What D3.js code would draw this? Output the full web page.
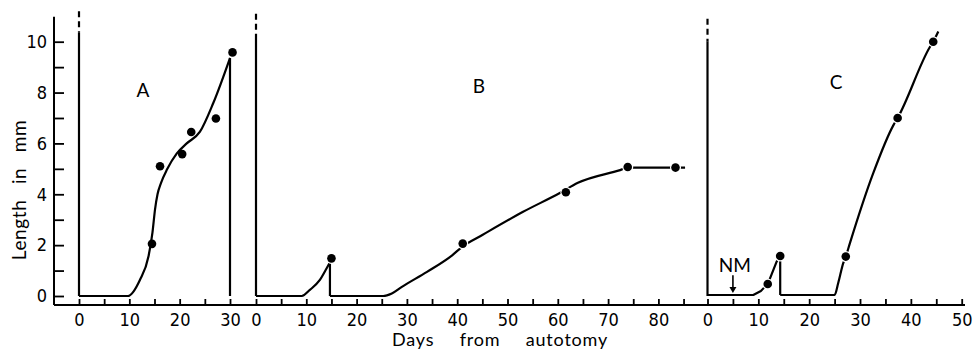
<!DOCTYPE html>
<html>
<head>
<meta charset="utf-8">
<script src="https://cdn.jsdelivr.net/npm/d3@7"></script>
<style>
  html, body { margin: 0; padding: 0; background: #fff; }
  svg { display: block; }
  .tick text { font-family: "DejaVu Sans Condensed", "Liberation Sans Narrow", "Liberation Sans", sans-serif; font-size: 18px; fill: #000; }
  .lbl { font-family: Lato, "Open Sans", sans-serif; fill: #000; }
</style>
</head>
<body>
<div id="chart"></div>
<script>
// ---- data (days, length in mm) ----
const yTickValues = [0, 1, 2, 3, 4, 5, 6, 7, 8, 9, 10];
const yTickLabels = ["0", "", "2", "", "4", "", "6", "", "8", "", "10"];

const aTicks = [0, 5, 10, 15, 20, 25, 30];
const bTicks = [0, 5, 10, 15, 20, 25, 30, 35, 40, 45, 50, 55, 60, 65, 70, 75, 80, 85];
const cTicks = [0, 5, 10, 15, 20, 25, 30, 35, 40, 45, 50];

// panel A
const aCurve = [[0, 0], [9.7, 0], [12.1, 0.63], [13.8, 1.55], [14.6, 2.5], [15.1, 3.4], [15.6, 4.0],
  [16.3, 4.45], [17.5, 4.98], [19.4, 5.6], [21.4, 6.0], [24, 6.45], [26.7, 7.6], [30, 9.36]];
const aDrop = [[30, 9.36], [30, 0]];
const aPoints = [[14.5, 2.05], [16.1, 5.1], [20.5, 5.58], [22.3, 6.45], [27.2, 6.98], [30.5, 9.58]];

// panel B
const bCurve1 = [[0, 0], [9.1, 0], [10.7, 0.24], [12.7, 0.63], [14.05, 1.09], [14.6, 1.29]];
const bDrop = [[14.7, 1.29], [14.7, 0]];
const bCurve2 = [[14.7, 0], [25.3, 0], [27, 0.1], [29, 0.36], [34, 0.95], [39, 1.6], [41.1, 1.95],
  [45, 2.4], [53, 3.3], [60.4, 4.05], [64, 4.45], [72.4, 4.95], [74, 5.05], [83.5, 5.05], [85.3, 5.05]];
const bPoints = [[15, 1.48], [41.1, 2.06], [61.6, 4.08], [73.9, 5.07], [83.4, 5.05]];

// panel C
const cCurve1 = [[0, 0.04], [9, 0.04], [10.5, 0.2], [11.85, 0.47], [13.6, 1.35], [14.3, 1.57]];
const cDrop = [[14.3, 1.57], [14.3, 0.04]];
const cCurve2 = [[14.3, 0.04], [25, 0.04], [25.7, 0.5], [26.7, 1.29], [27.2, 1.55], [28, 2.07],
  [32.6, 4.83], [36.6, 6.73], [37.4, 7.0], [43.8, 9.81], [44.4, 10.0], [45.4, 10.4]];
const cPoints = [[11.85, 0.47], [14.3, 1.57], [27.2, 1.55], [37.4, 7.0], [44.4, 10.0]];

// vertical lines at day 0: [solid top, dashed top]
const zeroLines = { A: [10.35, 11.2], B: [10.15, 11.1], C: [10.0, 10.9] };

const panelLabels = [["A", 12.7, 8.1], ["B", 44.3, 8.23], ["C", 25.3, 8.39]];
const nmNote = { text: "NM", day: 5, textY: 0.95, arrowTop: 0.82, arrowTip: 0.12 };

// ---- layout ----
const W = 975, H = 351;
const svg = d3.select("#chart").append("svg").attr("width", W).attr("height", H);

const y = d3.scaleLinear().domain([0, 10]).range([296, 41.7]);
const xA = d3.scaleLinear().domain([0, 30]).range([79, 230]);
const xB = d3.scaleLinear().domain([0, 80]).range([256, 658.4]);
const xC = d3.scaleLinear().domain([0, 50]).range([707.5, 961.7]);

const axisY = 305;
const spineX = 54;

// x axis baseline
svg.append("line")
  .attr("x1", spineX).attr("x2", 965)
  .attr("y1", axisY).attr("y2", axisY)
  .attr("stroke", "#000").attr("stroke-width", 2);

// y spine
svg.append("line")
  .attr("x1", spineX).attr("x2", spineX)
  .attr("y1", axisY).attr("y2", y(10.98))
  .attr("stroke", "#000").attr("stroke-width", 2);

// y axis
const gy = svg.append("g")
  .attr("transform", `translate(${spineX},0)`)
  .call(d3.axisLeft(y).tickValues(yTickValues)
    .tickFormat((d, i) => yTickLabels[i])
    .tickSizeInner(-10).tickSizeOuter(0).tickPadding(7));
gy.select(".domain").remove();
gy.selectAll(".tick line").attr("stroke-width", 1.8);

// x axes
function xAxis(scale, ticks) {
  const g = svg.append("g")
    .attr("transform", `translate(0,${axisY})`)
    .call(d3.axisBottom(scale).tickValues(ticks)
      .tickFormat(d => d % 10 === 0 ? d : "")
      .tickSizeInner(-6).tickSizeOuter(0).tickPadding(8));
  g.select(".domain").remove();
  g.selectAll(".tick line").attr("stroke-width", 1.8);
}
xAxis(xA, aTicks);
xAxis(xB, bTicks);
xAxis(xC, cTicks);

// axis titles
svg.append("text").attr("class", "lbl")
  .attr("transform", `translate(26,190) rotate(-90)`)
  .attr("text-anchor", "middle")
  .attr("font-size", 19).attr("letter-spacing", 0.6).attr("word-spacing", 10)
  .text("Length in mm");

svg.append("text").attr("class", "lbl")
  .attr("x", 500).attr("y", 346)
  .attr("text-anchor", "middle")
  .attr("font-size", 18).attr("letter-spacing", 0.8).attr("word-spacing", 20)
  .text("Days from autotomy");

// curves
const smooth = x => d3.line().x(d => x(d[0])).y(d => y(d[1])).curve(d3.curveMonotoneX);
const straight = x => d3.line().x(d => x(d[0])).y(d => y(d[1]));

function curve(data, gen) {
  svg.append("path").datum(data)
    .attr("d", gen)
    .attr("fill", "none").attr("stroke", "#000")
    .attr("stroke-width", 2.2).attr("stroke-linejoin", "round");
}

function zeroLine(x, tops) {
  svg.append("line")
    .attr("x1", x(0)).attr("x2", x(0))
    .attr("y1", y(0)).attr("y2", y(tops[0]))
    .attr("stroke", "#000").attr("stroke-width", 2.2);
  svg.append("line")
    .attr("x1", x(0)).attr("x2", x(0))
    .attr("y1", y(tops[1])).attr("y2", y(tops[0]))
    .attr("stroke", "#000").attr("stroke-width", 2.2)
    .attr("stroke-dasharray", "6,4");
}

function points(data, x, halo) {
  svg.append("g").selectAll("circle").data(data).join("circle")
    .attr("cx", d => x(d[0])).attr("cy", d => y(d[1]))
    .attr("r", 4.3).attr("fill", "#000")
    .attr("stroke", halo ? "#fff" : "none").attr("stroke-width", 2.5)
    .attr("paint-order", "stroke");
}

zeroLine(xA, zeroLines.A);
zeroLine(xB, zeroLines.B);
zeroLine(xC, zeroLines.C);

curve(aCurve, smooth(xA));
curve(aDrop, straight(xA));
curve(bCurve1, smooth(xB));
curve(bDrop, straight(xB));
curve(bCurve2, smooth(xB));
curve(cCurve1, straight(xC));
curve(cDrop, straight(xC));
curve(cCurve2, smooth(xC));

points(aPoints, xA, false);
points(bPoints, xB, true);
points(cPoints, xC, true);

// panel letters
const xs = { A: xA, B: xB, C: xC };
svg.selectAll(".panel").data(panelLabels).join("text")
  .attr("class", "lbl")
  .attr("x", d => xs[d[0]](d[1])).attr("y", d => y(d[2]))
  .attr("dy", "0.35em").attr("text-anchor", "middle")
  .attr("font-size", 19)
  .text(d => d[0]);

// NM annotation
svg.append("text").attr("class", "lbl")
  .attr("x", xC(nmNote.day) + 2).attr("y", y(nmNote.textY))
  .attr("text-anchor", "middle").attr("font-size", 19)
  .text(nmNote.text);
const ax = xC(nmNote.day), at = y(nmNote.arrowTop), tip = y(nmNote.arrowTip);
svg.append("line")
  .attr("x1", ax).attr("x2", ax).attr("y1", at).attr("y2", tip - 4)
  .attr("stroke", "#000").attr("stroke-width", 1.6);
svg.append("path")
  .attr("d", `M${ax - 3.5},${tip - 6}L${ax + 3.5},${tip - 6}L${ax},${tip}Z`)
  .attr("fill", "#000");
</script>
</body>
</html>
